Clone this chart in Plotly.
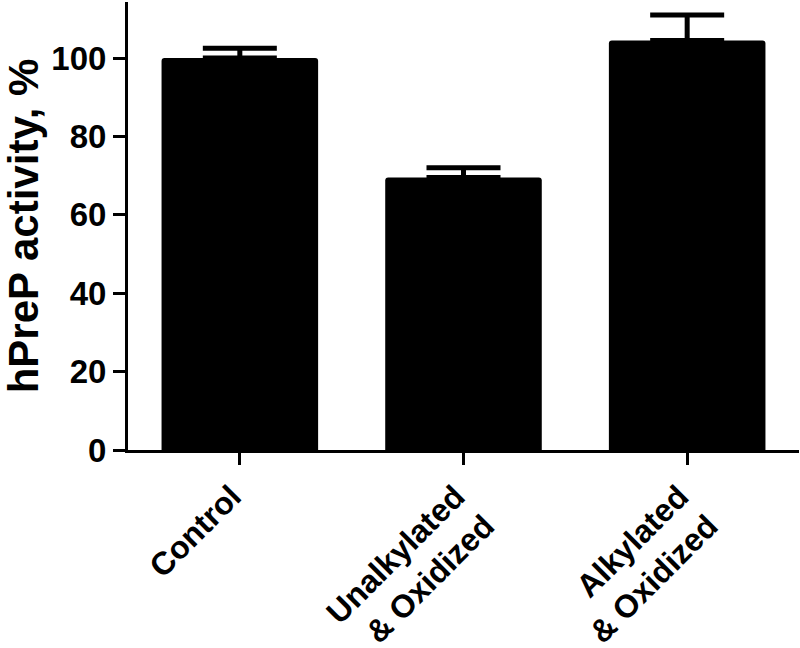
import plotly.graph_objects as go

# data
categories = ["Control", "Unalkylated<br>& Oxidized", "Alkylated<br>& Oxidized"]
activity = [100.0, 69.5, 104.5]
sem = [2.5, 2.5, 6.5]
y_ticks = [0, 20, 40, 60, 80, 100]

fnt = "Liberation Sans, Arial, sans-serif"

fig = go.Figure()
fig.add_trace(go.Bar(
    x=categories,
    y=activity,
    width=0.7,
    marker=dict(color="black", line=dict(width=0), cornerradius=3),
    error_y=dict(type="data", symmetric=False, array=sem,
                 arrayminus=[0] * len(sem), color="black",
                 thickness=5, width=37),
))

fig.update_layout(
    width=800, height=648,
    margin=dict(l=128, r=1, t=2, b=198),
    plot_bgcolor="white", paper_bgcolor="white",
    showlegend=False,
    font=dict(family=fnt, color="black"),
)
fig.update_xaxes(
    range=[-0.5, 2.5], automargin=False,
    showline=True, linecolor="black", linewidth=3,
    ticks="outside", ticklen=12, tickwidth=3, tickcolor="black",
    tickangle=-45, ticklabelshift=-8,
    tickfont=dict(family=fnt, size=32, color="black", weight="bold"),
    showgrid=False, zeroline=False,
)
fig.update_yaxes(
    range=[0, 114.3], automargin=False,
    tickvals=y_ticks,
    showline=True, linecolor="black", linewidth=3,
    ticks="outside", ticklen=12, tickwidth=3, tickcolor="black",
    tickfont=dict(family=fnt, size=33, color="black", weight="bold"),
    title=dict(text="hPreP activity, %", standoff=20,
               font=dict(family=fnt, size=42, color="black", weight="bold")),
    showgrid=False, zeroline=False,
)

# page body has a default 8px margin, drop it so the figure sits at 0,0
fig.write_html("out.html", config={"displayModeBar": False},
               post_script="document.body.style.margin='0';")
